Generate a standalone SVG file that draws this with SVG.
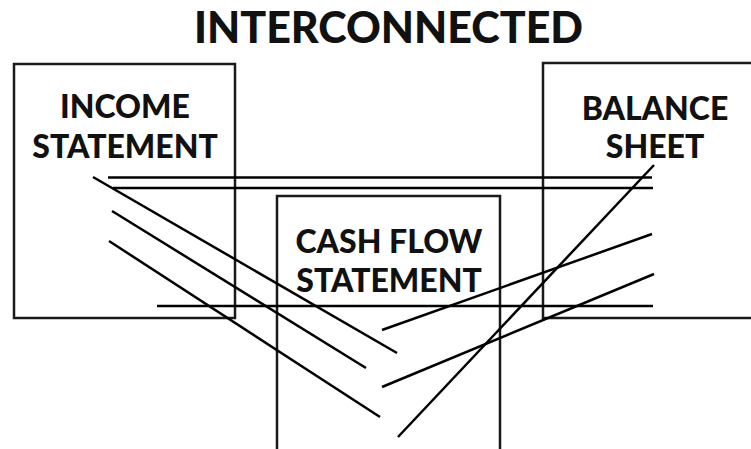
<svg xmlns="http://www.w3.org/2000/svg" width="751" height="449" viewBox="0 0 751 449">
<style>
.box{fill:none;stroke:#1a1a1a;stroke-width:2.5}
.ln{stroke:#000;stroke-width:2.5;fill:none}
.t{font-family:Lato,"Liberation Sans",sans-serif;font-weight:900;fill:#111;text-anchor:middle}
.lbl{font-size:32px}
.title{font-size:43px}
</style>
<rect width="751" height="449" fill="#fff"/>
<text class="t title" x="388.5" y="43">INTERCONNECTED</text>
<g id="income">
<rect class="box" x="14" y="64" width="221" height="254"/>
<text class="t lbl" x="125" y="118">INCOME</text>
<text class="t lbl" x="125" y="158">STATEMENT</text>
</g>
<g id="balance">
<rect class="box" x="543" y="63" width="212" height="255"/>
<text class="t lbl" x="655" y="120">BALANCE</text>
<text class="t lbl" x="655" y="158">SHEET</text>
</g>
<g id="cashflow">
<rect class="box" x="277" y="196" width="223" height="260"/>
<text class="t lbl" x="389" y="253">CASH FLOW</text>
<text class="t lbl" x="389" y="292">STATEMENT</text>
</g>
<g id="connectors">
<line class="ln" x1="108" y1="177.5" x2="652" y2="177.5"/>
<line class="ln" x1="113" y1="188" x2="653" y2="188" stroke-width="3"/>
<line class="ln" x1="157" y1="306" x2="653" y2="306"/>
<line class="ln" x1="93" y1="177" x2="397" y2="353"/>
<line class="ln" x1="112" y1="211" x2="366" y2="368"/>
<line class="ln" x1="109" y1="241" x2="380" y2="417"/>
<line class="ln" x1="382" y1="330" x2="652" y2="234"/>
<line class="ln" x1="382" y1="387" x2="654" y2="274"/>
<line class="ln" x1="398" y1="437" x2="654" y2="165"/>
</g>
</svg>
